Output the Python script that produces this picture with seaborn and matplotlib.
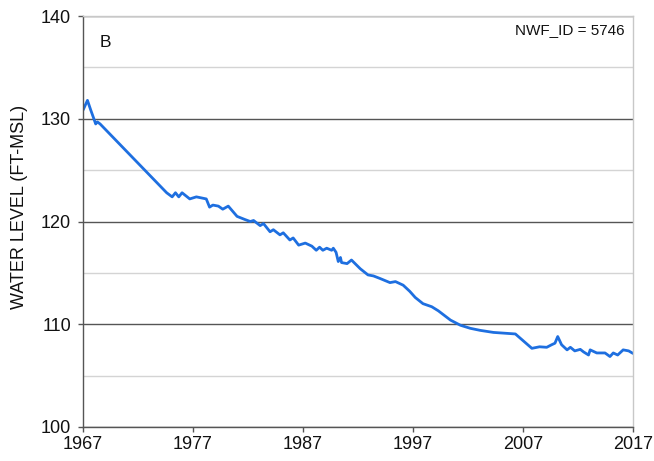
import numpy as np
import pandas as pd
import seaborn as sns
import matplotlib.pyplot as plt
from matplotlib.ticker import MultipleLocator

# water level record (decimal year, ft-msl)
years = [1967.0, 1967.4, 1967.7, 1967.95, 1968.15, 1968.3, 1968.55,
         1974.6, 1975.1, 1975.4, 1975.7, 1976.0, 1976.7, 1977.3, 1978.2,
         1978.5, 1978.8, 1979.3, 1979.7, 1980.2, 1981.0, 1981.7, 1982.2,
         1982.5, 1983.1, 1983.4, 1984.0, 1984.3, 1984.9, 1985.2, 1985.8,
         1986.1, 1986.6, 1987.2, 1987.8, 1988.2, 1988.5, 1988.8, 1989.15,
         1989.6, 1989.75, 1990.0, 1990.2, 1990.4, 1990.5, 1991.0, 1991.4,
         1992.2, 1992.9, 1993.4, 1994.0, 1994.9, 1995.4, 1995.7, 1996.1,
         1996.7, 1997.2, 1997.9, 1998.7, 1999.3, 2000.4, 2001.3, 2002.2,
         2003.1, 2004.3, 2006.3, 2007.8, 2008.5, 2009.15, 2009.6, 2009.9,
         2010.15, 2010.5, 2011.0, 2011.3, 2011.7, 2012.2, 2012.5, 2012.95,
         2013.1, 2013.7, 2014.45, 2014.9, 2015.2, 2015.6, 2016.1, 2016.6,
         2017.0]
levels = [130.85, 131.8, 130.85, 130.1, 129.5, 129.7, 129.5,
          122.8, 122.4, 122.8, 122.4, 122.8, 122.2, 122.4, 122.2,
          121.4, 121.6, 121.5, 121.2, 121.5, 120.5, 120.2, 120.0,
          120.1, 119.6, 119.8, 119.0, 119.2, 118.7, 118.9, 118.2,
          118.4, 117.7, 117.9, 117.6, 117.2, 117.5, 117.2, 117.4,
          117.2, 117.4, 117.0, 116.1, 116.5, 116.0, 115.9, 116.25,
          115.4, 114.8, 114.7, 114.45, 114.05, 114.15, 114.0, 113.8,
          113.2, 112.6, 112.0, 111.7, 111.3, 110.4, 109.9, 109.6,
          109.4, 109.2, 109.05, 107.65, 107.8, 107.75, 108.0, 108.15,
          108.8, 108.0, 107.5, 107.75, 107.4, 107.55, 107.3, 107.0,
          107.5, 107.2, 107.2, 106.85, 107.2, 107.0, 107.5, 107.4,
          107.15]
x_ticks = [1967, 1977, 1987, 1997, 2007, 2017]
y_ticks = [100, 110, 120, 130, 140]

df = pd.DataFrame({"year": years, "level": levels})

sns.set_theme(style="white")
plt.rcParams["font.family"] = ["Liberation Sans", "DejaVu Sans"]

fig = plt.figure(figsize=(6.54, 4.61), dpi=100)
ax = fig.add_axes([0.127, 0.074, 0.841, 0.891])

# gridlines: dark at the tens, light at the fives
ax.yaxis.set_minor_locator(MultipleLocator(5))
ax.grid(which="major", axis="y", color="#555555", linewidth=1.0)
ax.grid(which="minor", axis="y", color="#d4d4d4", linewidth=1.0)
ax.set_axisbelow(True)

sns.lineplot(data=df, x="year", y="level", ax=ax, color="#1e6fe0",
             linewidth=2.0)

ax.set_xlim(1967, 2017)
ax.set_ylim(100, 140)
ax.set_xticks(x_ticks)
ax.set_yticks(y_ticks)
ax.tick_params(axis="both", which="major", direction="out", length=3.6,
               width=1, color="#555555", labelsize=13, labelcolor="#111111",
               bottom=True, left=True)
ax.tick_params(axis="y", which="major", pad=5)
ax.tick_params(axis="x", which="major", pad=3)
ax.tick_params(axis="y", which="minor", length=0)

ax.set_xlabel("")
ax.set_ylabel("WATER LEVEL (FT-MSL)", fontsize=13, color="#111111")
ax.yaxis.set_label_coords(-0.1, 0.535)

for side in ["left", "bottom"]:
    ax.spines[side].set_color("#555555")
    ax.spines[side].set_linewidth(1.0)
for side in ["top", "right"]:
    ax.spines[side].set_color("#c8c8c8")
    ax.spines[side].set_linewidth(1.0)

ax.text(0.03, 0.937, "B", transform=ax.transAxes, fontsize=12.5,
        color="#111111", va="center", ha="left")
ax.text(0.984, 0.966, "NWF_ID = 5746", transform=ax.transAxes, fontsize=11,
        color="#111111", va="center", ha="right")

fig.savefig("out.png", dpi=100)
